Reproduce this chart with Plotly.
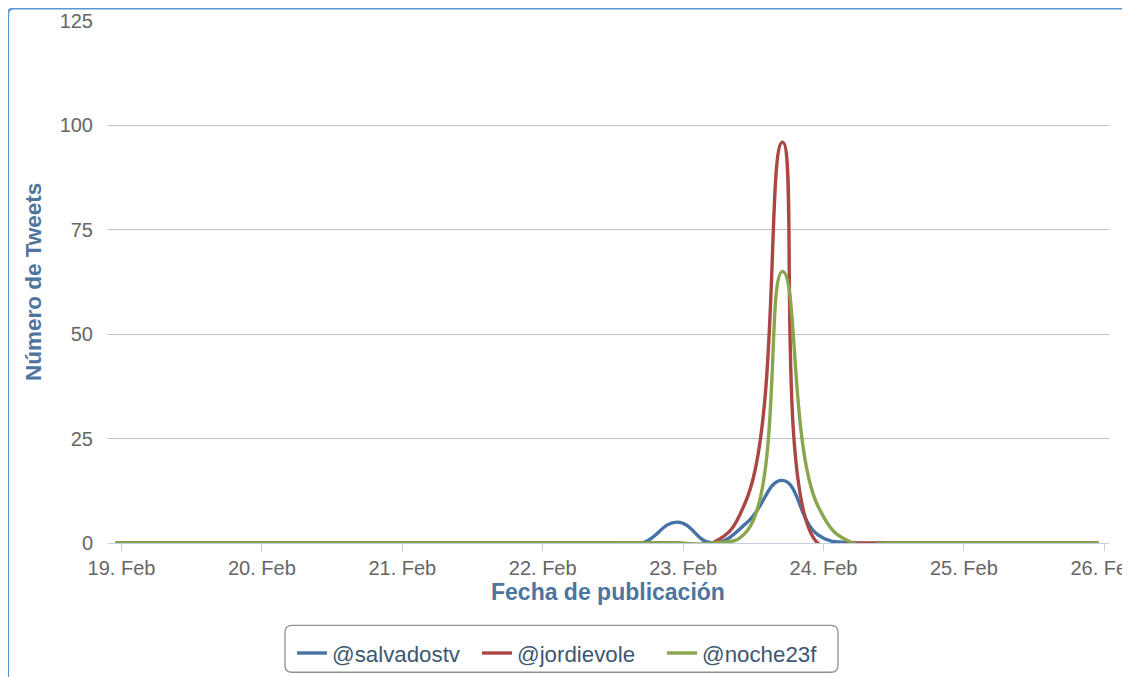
import plotly.graph_objects as go
import pandas as pd

# 6-hour buckets (UTC), 2014-02-18 23:00 .. 2014-02-25 23:00
times = pd.date_range("2014-02-18 23:00", "2014-02-25 23:00", freq="6h")

salvadostv = [0]*16 + [5, 0, 5, 15, 2, 0] + [0]*7
jordievole = [0]*16 + [0, 0, 11, 96, 0, 0] + [0]*7
noche23f   = [0]*16 + [0, 0, 3, 65, 9, 0] + [0]*7

series_names = ["@salvadostv", "@jordievole", "@noche23f"]
series_values = [salvadostv, jordievole, noche23f]
series_colors = ["#4572A7", "#AA4643", "#89A54E"]

x_ticks = pd.date_range("2014-02-19", "2014-02-26", freq="D")
y_ticks = [0, 25, 50, 75, 100, 125]

FONT = "Liberation Sans, Arial, Helvetica, sans-serif"

# page body has an 8px margin: figure starts at (8, 8) of the window
OFF = 8
W, H = 1130 - OFF, 677 - OFF

# plot area in window pixels (reference)
L, R = 108, 1109
T, B = 20.5, 543.5
fL, fR, fT, fB = L - OFF, R - OFF, T - OFF, B - OFF

# x range: 19 Feb at px 121.5, 26 Feb at px 1104.3
px_per_day = (1104.3 - 121.5) / 7
day0 = pd.Timestamp("2014-02-19")
x_min = day0 + pd.Timedelta(days=(L - 121.5) / px_per_day)
x_max = day0 + pd.Timedelta(days=(R - 121.5) / px_per_day)

def px(xp):  # window px -> paper x
    return (xp - L) / (R - L)

def py(yp):  # window px -> paper y
    return (B - yp) / (B - T)

def cx(xp):  # window px -> container x
    return (xp - OFF) / W

def cy(yp):  # window px -> container y
    return 1 - (yp - OFF) / H

fig = go.Figure()
for name, vals, col in zip(series_names, series_values, series_colors):
    fig.add_trace(go.Scatter(
        x=times, y=vals, name=name, mode="lines",
        line=dict(color=col, width=3.4, shape="spline", smoothing=1.3),
    ))

def rounded_rect(x0, y0, x1, y1, r):
    return (f"M {px(x0 + r)},{py(y0)} L {px(x1 - r)},{py(y0)} "
            f"Q {px(x1)},{py(y0)} {px(x1)},{py(y0 + r)} "
            f"L {px(x1)},{py(y1 - r)} Q {px(x1)},{py(y1)} {px(x1 - r)},{py(y1)} "
            f"L {px(x0 + r)},{py(y1)} Q {px(x0)},{py(y1)} {px(x0)},{py(y1 - r)} "
            f"L {px(x0)},{py(y0 + r)} Q {px(x0)},{py(y0)} {px(x0 + r)},{py(y0)} Z")

shapes = [
    dict(type="path", xref="paper", yref="paper",
         path=rounded_rect(8, 8, 1128, 700, 6),
         line=dict(color="#5B95D3", width=2.2), fillcolor="rgba(0,0,0,0)", layer="below"),
    dict(type="path", xref="paper", yref="paper",
         path=rounded_rect(285, 626, 838, 673, 7),
         line=dict(color="#909090", width=1.3), fillcolor="rgba(0,0,0,0)", layer="above"),
]

annotations = [
    dict(text="<b>Número de Tweets</b>", xref="paper", yref="paper",
         x=px(33), y=py(282), textangle=-90, showarrow=False,
         xanchor="center", yanchor="middle",
         font=dict(family=FONT, size=22.5, color="#4D759E")),
    dict(text="<b>Fecha de publicación</b>", xref="paper", yref="paper",
         x=px(608), y=py(593), showarrow=False,
         xanchor="center", yanchor="middle",
         font=dict(family=FONT, size=23, color="#4D759E")),
]

fig.update_layout(
    width=W, height=H,
    margin=dict(l=fL, r=W - fR, t=fT, b=H - fB, pad=0, autoexpand=False),
    paper_bgcolor="white", plot_bgcolor="white",
    font=dict(family=FONT, size=20, color="#666666"),
    showlegend=True,
    legend=dict(orientation="h", xref="container", yref="container",
                x=cx(292), y=cy(632), xanchor="left", yanchor="top",
                font=dict(family=FONT, size=22.3, color="#3E576F"),
                bgcolor="rgba(0,0,0,0)", borderwidth=0, itemwidth=30,
                entrywidth=140, entrywidthmode="pixels",
                tracegroupgap=0),
    shapes=shapes,
    annotations=annotations,
    xaxis=dict(
        type="date", range=[x_min, x_max],
        tickvals=x_ticks, tickformat="%d. %b",
        showgrid=False, zeroline=False,
        showline=True, linecolor="#C0D0E0", linewidth=1,
        ticks="outside", tickcolor="#C0D0E0", ticklen=7, tickwidth=1,
        ticklabeloverflow="allow",
        tickfont=dict(family=FONT, size=20, color="#666666"),
    ),
    yaxis=dict(
        range=[0, 125], tickvals=y_ticks,
        showgrid=True, gridcolor="#C0C0C0", gridwidth=1,
        zeroline=False, showline=False, ticks="",
        ticklabelstandoff=14,
        tickfont=dict(family=FONT, size=20, color="#666666"),
    ),
)

fig.write_html("out.html")
